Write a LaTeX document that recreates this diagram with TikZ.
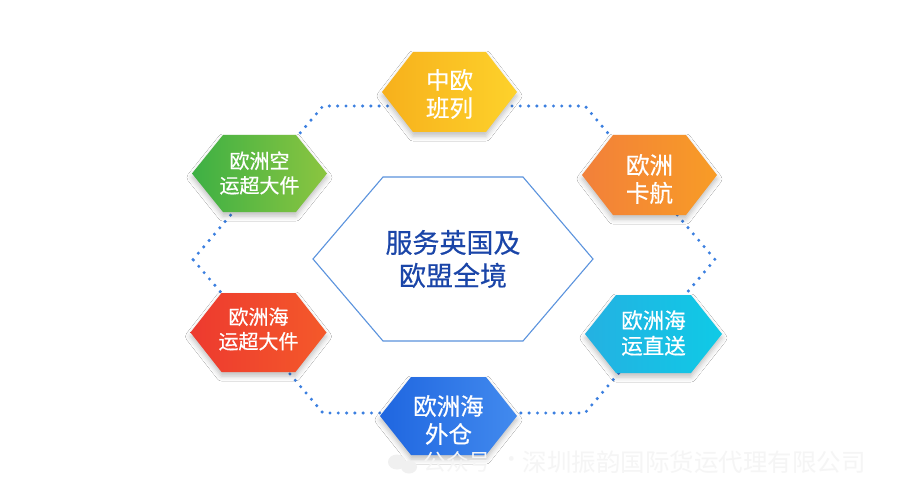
\documentclass[tikz,border=0pt]{standalone}
\usepackage{fontspec}
\newfontfamily\cjk{Noto Sans CJK SC}
\newfontfamily\cjkb[FakeBold=0.5]{Noto Sans CJK SC}
\usetikzlibrary{shadows.blur}
\definecolor{dotblue}{HTML}{3B7FE0}
\definecolor{rimblue}{HTML}{5B93DD}
\definecolor{deepblue}{HTML}{1A45A8}
\newcommand{\hexagonpath}[5]{({#1-#3},#2) -- ({#1-#3+#5},{#2-#4}) -- ({#1+#3-#5},{#2-#4}) -- ({#1+#3},#2) -- ({#1+#3-#5},{#2+#4}) -- ({#1-#3+#5},{#2+#4}) -- cycle}
\tikzset{
  dotline/.style={draw=dotblue, line width=3.4pt, line cap=round, dash pattern=on 0pt off 8.3pt},
  colhex/.style={blur shadow={shadow xshift=0pt, shadow yshift=-4pt, shadow blur radius=5pt, shadow opacity=25}},
  bigtxt/.style={text=white, align=center, font={\cjkb\fontsize{23.5}{28}\selectfont}},
  smalltxt/.style={text=white, align=center, font={\cjkb\fontsize{20}{24.5}\selectfont}},
  midtxt/.style={text=white, align=center, font={\cjkb\fontsize{21.5}{25.5}\selectfont}},
  centertxt/.style={text=deepblue, align=center, font={\cjkb\fontsize{27}{33}\selectfont}},
  wmtxt/.style={text=black!4, anchor=west}
}
\begin{document}
\begin{tikzpicture}[x=1pt,y=-1pt]
\useasboundingbox (0,0) rectangle (900,500);
\fill[white] (0,0) rectangle (900,500);
% outer dotted ring
\draw[dotline] (193,259.5) -- (323,106) -- (585,106) -- (715,259.5) -- (585,413) -- (323,413) -- cycle;
% centre hexagon
\path[fill=white, draw=rimblue, line width=1.1pt] \hexagonpath{453}{259}{140}{82}{70};
\node[centertxt] (centre) at (453,259) {服务英国及\\欧盟全境};
% coloured hexagons
\path[colhex, left color={rgb,255:red,247;green,176;blue,28}, right color={rgb,255:red,253;green,210;blue,43}] \hexagonpath{449.5}{92}{67.5}{40}{31};
\node[bigtxt] (rail) at (449.5,94) {中欧\\班列};
\path[colhex, left color={rgb,255:red,61;green,176;blue,68}, right color={rgb,255:red,139;green,197;blue,64}] \hexagonpath{259.5}{173.5}{67.5}{38.5}{31};
\node[smalltxt] (air) at (259.5,173) {欧洲空\\运超大件};
\path[colhex, left color={rgb,255:red,242;green,128;blue,58}, right color={rgb,255:red,248;green,156;blue,38}] \hexagonpath{649.5}{175}{67.5}{40}{31};
\node[bigtxt] (truck) at (649.5,179) {欧洲\\卡航};
\path[colhex, left color={rgb,255:red,237;green,58;blue,47}, right color={rgb,255:red,244;green,89;blue,42}] \hexagonpath{258.5}{332.5}{68}{39.5}{31};
\node[smalltxt] (sea) at (258.5,329) {欧洲海\\运超大件};
\path[colhex, left color={rgb,255:red,36;green,177;blue,226}, right color={rgb,255:red,15;green,202;blue,230}] \hexagonpath{653.5}{334}{68.5}{39}{31};
\node[midtxt] (direct) at (653.5,333) {欧洲海\\运直送};
\path[colhex, left color={rgb,255:red,31;green,102;blue,224}, right color={rgb,255:red,66;green,138;blue,238}] \hexagonpath{448.5}{416}{68.5}{39}{31};
\node[bigtxt] (warehouse) at (448.5,420) {欧洲海\\外仓};
% faint watermark
\fill[black!6] (397,462) ellipse (9pt and 7.5pt);
\fill[black!6] (409,467) ellipse (8pt and 6.5pt);
\node[wmtxt, font={\cjk\fontsize{22.5}{24}\selectfont}] (wm1) at (420,462) {公众号};
\node[wmtxt, font={\cjk\fontsize{22.5}{24}\selectfont}] (wm2) at (497,462) {·};
\node[wmtxt, font={\cjk\fontsize{24.5}{26}\selectfont}] (wm3) at (519,462) {深圳振韵国际货运代理有限公司};
\end{tikzpicture}
\end{document}
